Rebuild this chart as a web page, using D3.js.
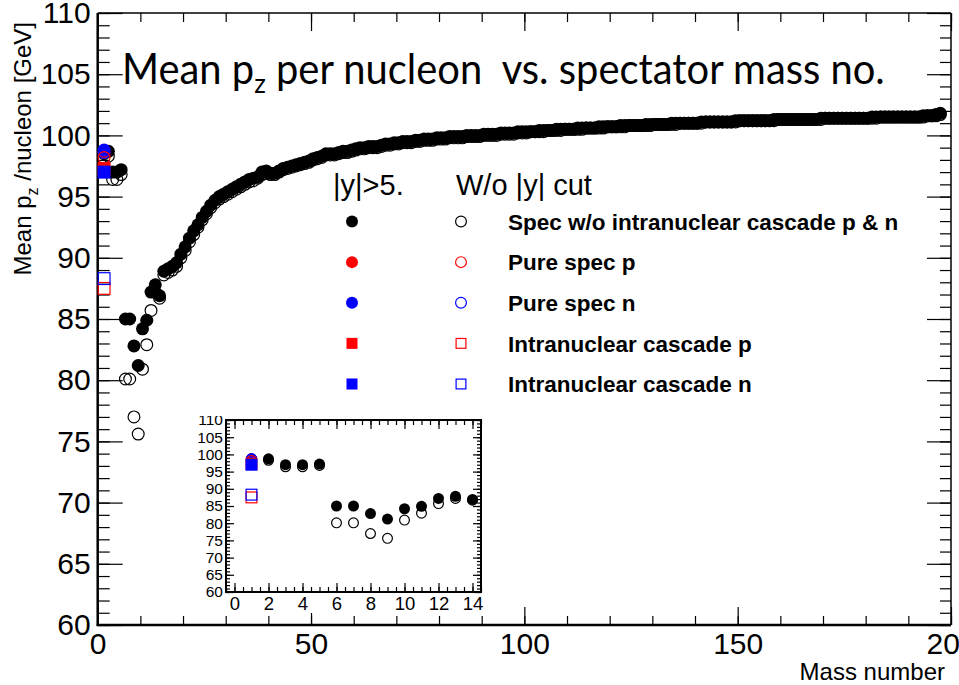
<!DOCTYPE html>
<html>
<head>
<meta charset="utf-8">
<script src="https://cdn.jsdelivr.net/npm/d3@7"></script>
<style>
body { margin: 0; background: #fff; }
</style>
</head>
<body>
<script>

// Mass numbers of the spectator system
var massNumbers = d3.range(1, 198);

// Spec w/o intranuclear cascade p & n, |y|>5. (filled)
var specCut = [
	98.7, 98.7, 97.0, 97.0, 97.2, 85.0, 85.0, 82.8, 81.2, 84.2,
	84.9, 87.2, 87.8, 86.9, 88.9, 89.1, 89.3, 89.6, 90.3, 90.9,
	91.6, 92.2, 92.7, 93.3, 93.8, 94.3, 94.7, 95.0, 95.2, 95.4,
	95.6, 95.8, 96.0, 96.2, 96.4, 96.5, 96.6, 97.0, 97.1, 96.9,
	96.9, 97.1, 97.3, 97.4, 97.5, 97.6, 97.7, 97.8, 97.9, 98.1,
	98.2, 98.3, 98.5, 98.5, 98.5, 98.6, 98.7, 98.7, 98.8, 98.9,
	99.0, 99.0, 99.1, 99.1, 99.1, 99.2, 99.3, 99.3, 99.4, 99.4,
	99.5, 99.5, 99.5, 99.6, 99.6, 99.7, 99.7, 99.7, 99.8, 99.8,
	99.8, 99.9, 99.9, 99.9, 99.9, 100.0, 100.0, 100.0, 100.0, 100.1,
	100.1, 100.1, 100.1, 100.2, 100.2, 100.2, 100.2, 100.3, 100.3, 100.3,
	100.3, 100.3, 100.4, 100.4, 100.4, 100.4, 100.5, 100.5, 100.5, 100.5,
	100.5, 100.6, 100.6, 100.6, 100.6, 100.6, 100.7, 100.7, 100.7, 100.7,
	100.7, 100.8, 100.8, 100.8, 100.8, 100.8, 100.8, 100.9, 100.9, 100.9,
	100.9, 100.9, 100.9, 101.0, 101.0, 101.0, 101.0, 101.0, 101.0, 101.0,
	101.1, 101.1, 101.1, 101.1, 101.1, 101.1, 101.1, 101.1, 101.2, 101.2,
	101.2, 101.2, 101.2, 101.2, 101.2, 101.2, 101.2, 101.3, 101.3, 101.3,
	101.3, 101.3, 101.3, 101.3, 101.3, 101.3, 101.3, 101.3, 101.4, 101.4,
	101.4, 101.4, 101.4, 101.4, 101.4, 101.4, 101.4, 101.4, 101.4, 101.4,
	101.5, 101.5, 101.5, 101.5, 101.5, 101.5, 101.5, 101.5, 101.5, 101.5,
	101.5, 101.5, 101.6, 101.6, 101.6, 101.7, 101.8
];

// Spec w/o intranuclear cascade p & n, no |y| cut (open)
var specNoCut = [
	98.5, 98.3, 96.4, 96.4, 96.8, 80.1, 80.1, 77.0, 75.6, 80.9,
	82.9, 85.7, 87.2, 86.7, 88.6, 88.8, 89.0, 89.3, 90.0, 90.6,
	91.3, 91.9, 92.5, 93.1, 93.6, 94.1, 94.5, 94.8, 95.0, 95.2,
	95.4, 95.6, 95.8, 96.0, 96.2, 96.3, 96.5, 96.8, 96.9, 96.8,
	96.8, 97.0, 97.2, 97.3, 97.4, 97.5, 97.6, 97.7, 97.8, 98.0,
	98.1, 98.2, 98.4, 98.4, 98.4, 98.5, 98.6, 98.6, 98.7, 98.8,
	98.9, 98.9, 99.0, 99.0, 99.0, 99.1, 99.2, 99.2, 99.3, 99.3,
	99.4, 99.4, 99.4, 99.5, 99.5, 99.6, 99.6, 99.6, 99.7, 99.7,
	99.7, 99.8, 99.8, 99.8, 99.8, 99.9, 99.9, 99.9, 99.9, 100.0,
	100.0, 100.0, 100.0, 100.1, 100.1, 100.1, 100.1, 100.2, 100.2, 100.2,
	100.3, 100.3, 100.3, 100.3, 100.4, 100.4, 100.4, 100.4, 100.5, 100.5,
	100.5, 100.5, 100.5, 100.6, 100.6, 100.6, 100.6, 100.6, 100.7, 100.7,
	100.7, 100.7, 100.7, 100.8, 100.8, 100.8, 100.8, 100.8, 100.8, 100.9,
	100.9, 100.9, 100.9, 100.9, 100.9, 101.0, 101.0, 101.0, 101.0, 101.0,
	101.0, 101.1, 101.1, 101.1, 101.1, 101.1, 101.1, 101.1, 101.1, 101.2,
	101.2, 101.2, 101.2, 101.2, 101.2, 101.2, 101.2, 101.2, 101.3, 101.3,
	101.3, 101.3, 101.3, 101.3, 101.3, 101.3, 101.3, 101.3, 101.3, 101.4,
	101.4, 101.4, 101.4, 101.4, 101.4, 101.4, 101.4, 101.4, 101.4, 101.4,
	101.4, 101.4, 101.5, 101.5, 101.5, 101.5, 101.5, 101.5, 101.5, 101.5,
	101.5, 101.5, 101.5, 101.6, 101.6, 101.6, 101.7
];

// Single nucleons (A = 1)
var nucleonMass = [1];
var pureSpecPCut = [98.6];
var pureSpecPNoCut = [98.2];
var pureSpecNCut = [98.8];
var pureSpecNNoCut = [98.6];
var cascadePCut = [97.3];
var cascadePNoCut = [87.5];
var cascadeNCut = [97.0];
var cascadeNNoCut = [88.3];

// Legend entries and tick labels
var legendLabels = ["Spec w/o intranuclear cascade p & n", "Pure spec p", "Pure spec n",
	"Intranuclear cascade p", "Intranuclear cascade n"];
var legendColors = ["#000000", "#ff0000", "#0000ff", "#ff0000", "#0000ff"];
var legendShapes = ["circle", "circle", "circle", "square", "square"];
var xMajorTicks = [0, 50, 100, 150, 200];
var yMajorTicks = [60, 65, 70, 75, 80, 85, 90, 95, 100, 105, 110];
var insetXTicks = [0, 2, 4, 6, 8, 10, 12, 14];

var width = 959;
var height = 685;
var helv = "'Liberation Sans', Arial, Helvetica, sans-serif";

var svg = d3.select("body")
	.append("svg")
	.attr("width", width)
	.attr("height", height)
	.style("display", "block")
	.style("background", "#fff");

// Main frame (note: "top" is taken by window.top, so use frame* names)
var frameL = 97.7, frameR = 951, frameT = 13, frameB = 625;

var x = d3.scaleLinear().domain([0, 200]).range([frameL, frameR]);
var y = d3.scaleLinear().domain([60, 110]).range([frameB, frameT]);

function styleAxis(g, fontSize) {
	g.select(".domain").remove();
	g.selectAll("line").attr("stroke", "#000").attr("stroke-width", 1.2);
	g.selectAll("text")
		.attr("font-family", helv)
		.attr("font-size", fontSize)
		.attr("fill", "#000");
}

function addAxis(parent, axis, tx, ty, fontSize) {
	var g = parent.append("g")
		.attr("transform", "translate(" + tx + "," + ty + ")")
		.call(axis);
	styleAxis(g, fontSize);
	return g;
}

// main axes: major + minor ticks on all four sides, pointing inward
addAxis(svg, d3.axisBottom(x).tickValues(d3.range(0, 201, 10)).tickSizeInner(-9).tickSizeOuter(0).tickFormat(""), 0, frameB, 30);
addAxis(svg, d3.axisBottom(x).tickValues(xMajorTicks).tickSizeInner(-18).tickSizeOuter(0).tickPadding(8), 0, frameB, 30);
addAxis(svg, d3.axisTop(x).tickValues(d3.range(0, 201, 10)).tickSizeInner(-9).tickSizeOuter(0).tickFormat(""), 0, frameT, 30);
addAxis(svg, d3.axisTop(x).tickValues(xMajorTicks).tickSizeInner(-18).tickSizeOuter(0).tickFormat(""), 0, frameT, 30);
addAxis(svg, d3.axisLeft(y).tickValues(d3.range(60, 111, 1)).tickSizeInner(-12).tickSizeOuter(0).tickFormat(""), frameL, 0, 30);
addAxis(svg, d3.axisLeft(y).tickValues(yMajorTicks).tickSizeInner(-25).tickSizeOuter(0).tickPadding(7), frameL, 0, 30);
addAxis(svg, d3.axisRight(y).tickValues(d3.range(60, 111, 1)).tickSizeInner(-11).tickSizeOuter(0).tickFormat(""), frameR, 0, 30);
addAxis(svg, d3.axisRight(y).tickValues(yMajorTicks).tickSizeInner(-24).tickSizeOuter(0).tickFormat(""), frameR, 0, 30);

// frame lines
svg.append("line").attr("x1", frameL).attr("x2", frameR).attr("y1", frameT).attr("y2", frameT)
	.attr("stroke", "#000").attr("stroke-width", 1.5);
svg.append("line").attr("x1", frameR).attr("x2", frameR).attr("y1", frameT).attr("y2", frameB)
	.attr("stroke", "#000").attr("stroke-width", 1.5);
svg.append("line").attr("x1", frameL).attr("x2", frameL).attr("y1", frameT).attr("y2", frameB + 1)
	.attr("stroke", "#000").attr("stroke-width", 2.5);
svg.append("line").attr("x1", frameL - 1).attr("x2", frameR).attr("y1", frameB).attr("y2", frameB)
	.attr("stroke", "#000").attr("stroke-width", 2.5);

// Title
var title = svg.append("text")
	.attr("font-family", "Lato, 'Open Sans', sans-serif")
	.attr("font-size", 42)
	.attr("fill", "#000")
	.style("white-space", "pre");
title.append("tspan").text("Mean p");
title.append("tspan").attr("font-size", 27).attr("dy", 9).text("z");
title.append("tspan").attr("dy", -9).text(" per nucleon  vs. spectator mass no.");
var tw = title.node().getBBox().width;
title.attr("transform", "translate(122,84) scale(" + (763 / tw) + ",1)");

// Axis titles
var yTitle = svg.append("text")
	.attr("transform", "translate(31,22) rotate(-90)")
	.attr("text-anchor", "end")
	.attr("font-family", helv)
	.attr("font-size", 24)
	.attr("fill", "#000")
	.style("white-space", "pre");
yTitle.append("tspan").text("Mean p");
yTitle.append("tspan").attr("font-size", 16).attr("dy", 7).text("z");
yTitle.append("tspan").attr("dy", -7).text(" /nucleon [GeV]");

svg.append("text")
	.attr("x", 945)
	.attr("y", 680)
	.attr("text-anchor", "end")
	.attr("font-family", helv)
	.attr("font-size", 24)
	.attr("fill", "#000")
	.text("Mass number");

// Marker drawing
function drawMarkers(g, xs, ys, xs2, ys2, shape, filled, color, size) {
	var pts = d3.zip(xs, ys);
	if (shape == "circle") {
		g.selectAll(null)
			.data(pts)
			.enter()
			.append("circle")
			.attr("cx", (d) => {return xs2(d[0])})
			.attr("cy", (d) => {return ys2(d[1])})
			.attr("r", filled ? size : size - 0.6)
			.attr("fill", filled ? color : "none")
			.attr("stroke", filled ? "none" : color)
			.attr("stroke-width", 1.2);
	} else {
		var s = filled ? size * 2 : size * 2 - 1.2;
		g.selectAll(null)
			.data(pts)
			.enter()
			.append("rect")
			.attr("x", (d) => {return xs2(d[0]) - s / 2})
			.attr("y", (d) => {return ys2(d[1]) - s / 2})
			.attr("width", s)
			.attr("height", s)
			.attr("fill", filled ? color : "none")
			.attr("stroke", filled ? "none" : color)
			.attr("stroke-width", 1.2);
	}
}

function drawAll(g, xs2, ys2, maxA, r, h) {
	var n = maxA ? maxA : massNumbers.length;
	var a = massNumbers.slice(0, n);
	drawMarkers(g, a, specNoCut.slice(0, n), xs2, ys2, "circle", false, "#000", r);
	drawMarkers(g, a, specCut.slice(0, n), xs2, ys2, "circle", true, "#000", r);
	drawMarkers(g, nucleonMass, pureSpecPCut, xs2, ys2, "circle", true, "#ff0000", r);
	drawMarkers(g, nucleonMass, pureSpecNCut, xs2, ys2, "circle", true, "#0000ff", r);
	drawMarkers(g, nucleonMass, pureSpecNNoCut, xs2, ys2, "circle", false, "#0000ff", r);
	drawMarkers(g, nucleonMass, pureSpecPNoCut, xs2, ys2, "circle", false, "#ff0000", r);
	drawMarkers(g, nucleonMass, cascadePCut, xs2, ys2, "square", true, "#ff0000", h);
	drawMarkers(g, nucleonMass, cascadeNCut, xs2, ys2, "square", true, "#0000ff", h);
	drawMarkers(g, nucleonMass, cascadePNoCut, xs2, ys2, "square", false, "#ff0000", h);
	drawMarkers(g, nucleonMass, cascadeNNoCut, xs2, ys2, "square", false, "#0000ff", h);
}

// main plot points sit at bin centres (A + 0.5)
var mainX = (v) => {return x(v + 0.5)};
drawAll(svg.append("g"), mainX, y, 0, 6.5, 6.5);

// Legend
var legend = svg.append("g");
legend.append("text").attr("x", 333).attr("y", 195)
	.attr("font-family", helv).attr("font-size", 29).text("|y|>5.");
legend.append("text").attr("x", 456).attr("y", 195)
	.attr("font-family", helv).attr("font-size", 29).text("W/o |y| cut");

var rowY = d3.scalePoint().domain(d3.range(legendLabels.length)).range([221.5, 384]);
legendLabels.forEach((label, i) => {
	var cy = rowY(i);
	var px = (v) => {return v};
	var py = () => {return cy};
	drawMarkers(legend, [352], [0], px, py, legendShapes[i], true, legendColors[i], legendShapes[i] == "circle" ? 6 : 5.5);
	drawMarkers(legend, [461], [0], px, py, legendShapes[i], false, legendColors[i], legendShapes[i] == "circle" ? 6 : 5.5);
	legend.append("text")
		.attr("x", 508)
		.attr("y", cy + 8.2)
		.attr("font-family", helv)
		.attr("font-weight", "bold")
		.attr("font-size", 22.5)
		.attr("fill", "#000")
		.text(label);
});

// Inset zoom on A <= 14
var iLeft = 226, iRight = 481, iTop = 420, iBottom = 592;
var xi = d3.scaleLinear().domain([-0.5, 14.5]).range([iLeft, iRight]);
var yi = d3.scaleLinear().domain([60, 110]).range([iBottom, iTop]);

svg.append("clipPath").attr("id", "insetPad")
	.append("rect").attr("x", 198).attr("y", 416).attr("width", 292).attr("height", 197);
svg.append("clipPath").attr("id", "insetFrame")
	.append("rect").attr("x", iLeft).attr("y", iTop).attr("width", iRight - iLeft).attr("height", iBottom - iTop);

var inset = svg.append("g").attr("clip-path", "url(#insetPad)");
inset.append("rect").attr("x", 198).attr("y", 416).attr("width", 292).attr("height", 197).attr("fill", "#fff");

addAxis(inset, d3.axisBottom(xi).tickValues(d3.range(-0.5, 14.6, 0.5)).tickSizeInner(-5).tickSizeOuter(0).tickFormat(""), 0, iBottom, 18.5);
addAxis(inset, d3.axisBottom(xi).tickValues(insetXTicks).tickSizeInner(-9).tickSizeOuter(0).tickPadding(5), 0, iBottom, 18.5);
addAxis(inset, d3.axisTop(xi).tickValues(d3.range(-0.5, 14.6, 0.5)).tickSizeInner(-5).tickSizeOuter(0).tickFormat(""), 0, iTop, 18.5);
addAxis(inset, d3.axisTop(xi).tickValues(insetXTicks).tickSizeInner(-9).tickSizeOuter(0).tickFormat(""), 0, iTop, 18.5);
addAxis(inset, d3.axisLeft(yi).tickValues(d3.range(60, 111, 1)).tickSizeInner(-4).tickSizeOuter(0).tickFormat(""), iLeft, 0, 15.5);
addAxis(inset, d3.axisLeft(yi).tickValues(yMajorTicks).tickSizeInner(-8).tickSizeOuter(0).tickPadding(3), iLeft, 0, 15.5);
addAxis(inset, d3.axisRight(yi).tickValues(d3.range(60, 111, 1)).tickSizeInner(-4).tickSizeOuter(0).tickFormat(""), iRight, 0, 15.5);
addAxis(inset, d3.axisRight(yi).tickValues(yMajorTicks).tickSizeInner(-8).tickSizeOuter(0).tickFormat(""), iRight, 0, 15.5);

drawAll(inset.append("g").attr("clip-path", "url(#insetFrame)"), xi, yi, 14, 5.5, 6);

inset.append("rect")
	.attr("x", iLeft).attr("y", iTop)
	.attr("width", iRight - iLeft).attr("height", iBottom - iTop)
	.attr("fill", "none")
	.attr("stroke", "#000")
	.attr("stroke-width", 2);

</script>
</body>
</html>
